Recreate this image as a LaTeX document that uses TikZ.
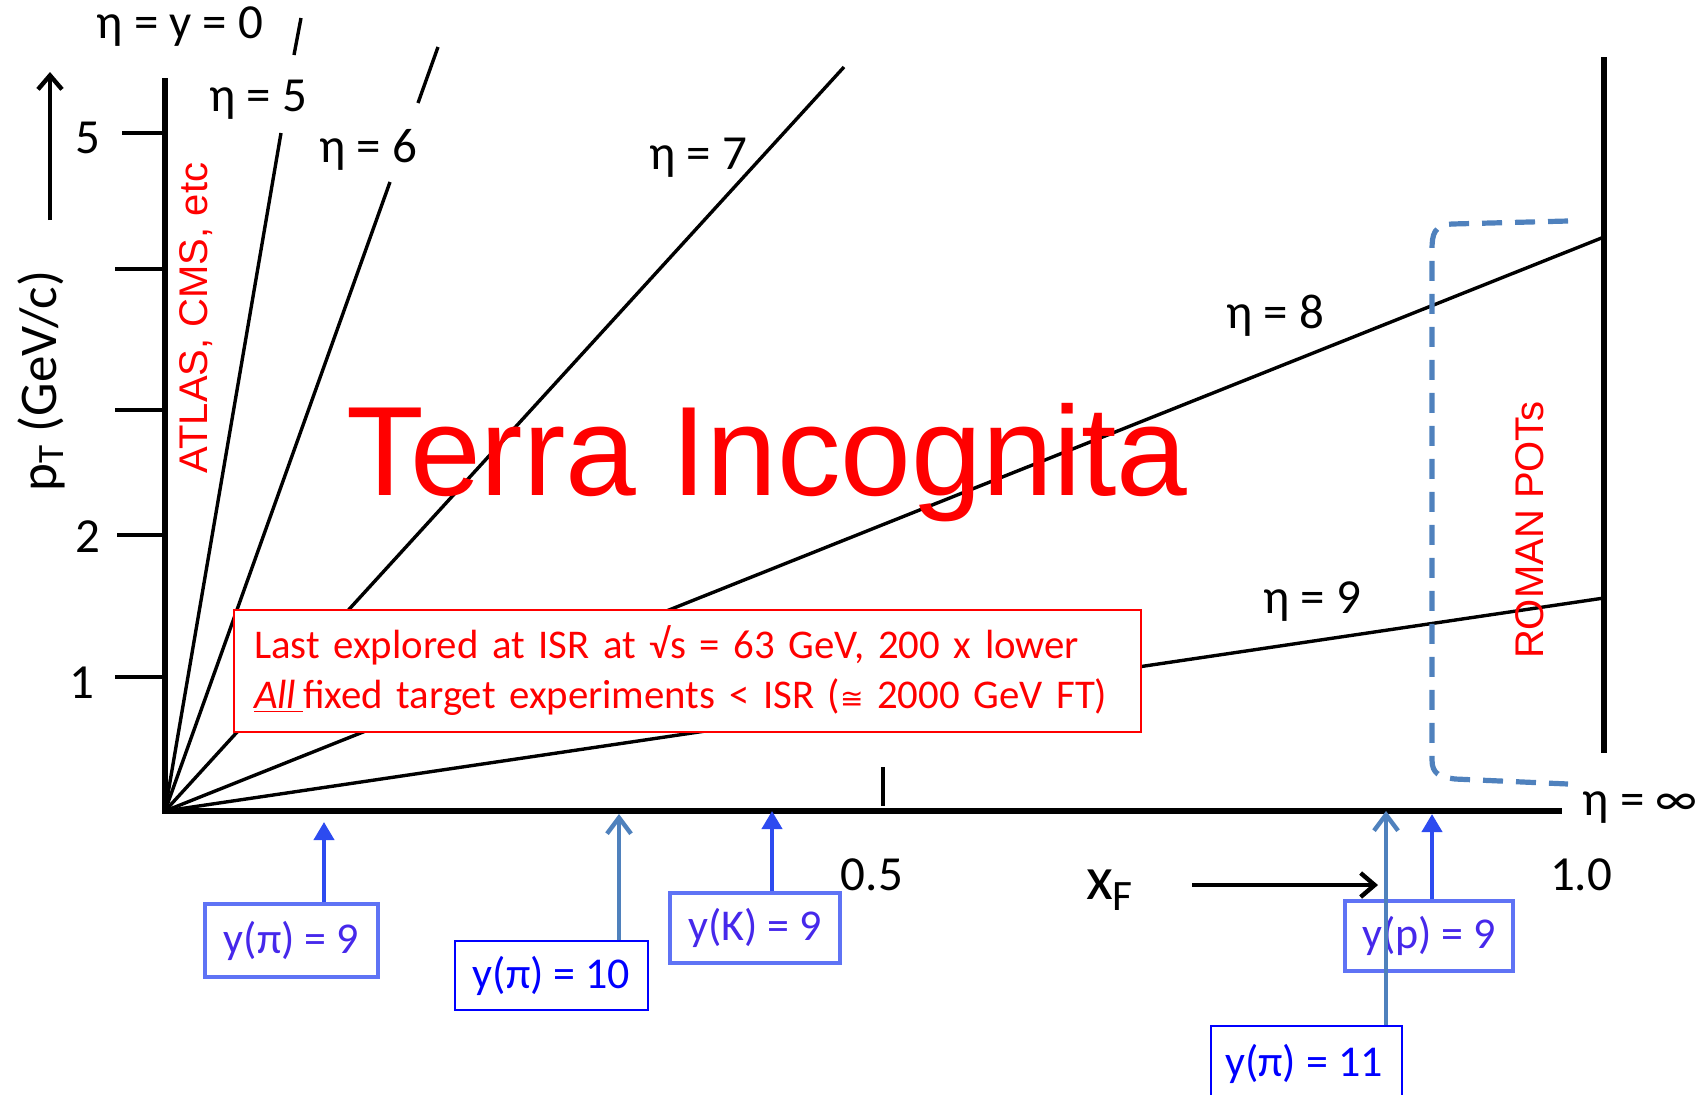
\documentclass[tikz,border=0pt]{standalone}
\usepackage{fontspec}
\setmainfont{Carlito}
\newfontfamily\arialf{Liberation Sans}
\newfontfamily\dejavuf{DejaVu Sans}
\usetikzlibrary{arrows.meta}
\definecolor{sblue}{RGB}{79,129,189}
\definecolor{bblue}{RGB}{45,75,240}
\definecolor{lblue}{RGB}{95,115,245}
\definecolor{tblue}{RGB}{70,40,235}
\definecolor{pblue}{RGB}{0,0,255}
\definecolor{ired}{RGB}{255,0,0}
\begin{document}
\begin{tikzpicture}[x=0.5pt,y=-0.5pt,
  axisline/.style={line width=2.6pt,black,line join=miter},
  tickline/.style={line width=2.4pt,black},
  etaline/.style={line width=1.7pt,black},
  lab/.style={font=\fontsize{24.5}{28}\selectfont,inner sep=0pt},
  redlab/.style={font=\arialf\fontsize{20}{24}\selectfont,text=ired,inner sep=0pt,rotate=90},
  fuzzybox/.style={draw=lblue,line width=1.6pt,text=tblue,fill=white,inner sep=0pt,
     font=\fontsize{22}{26}\selectfont},
  plainbox/.style={draw=pblue,line width=0.7pt,text=pblue,fill=white,inner sep=0pt,
     font=\fontsize{22}{26}\selectfont},
  brightarrow/.style={bblue,line width=2pt,-{Triangle[length=9pt,width=10pt]}},
  steelarrow/.style={sblue,line width=2.3pt,-{Straight Barb[length=8pt,width=12pt,line width=2.2pt]}},
  blackarrow/.style={black,line width=2.4pt,-{Straight Barb[length=7pt,width=12pt,line width=2.2pt]}}
]
\useasboundingbox (0,0) rectangle (1707,1094);

% key coordinates
\coordinate (O) at (165,811);
\coordinate (ytop) at (165,78);
\coordinate (xend) at (1562,811);

% eta lines
\coordinate (e5a) at (281,133);
\coordinate (e5b) at (294,55);
\coordinate (e5c) at (301,18);
\coordinate (e6a) at (390,182);
\coordinate (e6b) at (418,103);
\coordinate (e6c) at (438,47);
\coordinate (e7) at (844,67);
\coordinate (e8) at (1604,237);
\coordinate (e9) at (1604,598);
\draw[etaline] (O) -- (e5a);
\draw[etaline] (e5b) -- (e5c);
\draw[etaline] (O) -- (e6a);
\draw[etaline] (e6b) -- (e6c);
\draw[etaline] (O) -- (e7);
\draw[etaline] (O) -- (e8);
\draw[etaline] (O) -- (e9);

% axes
\draw[axisline] (ytop) -- (O) -- (xend);
\coordinate (rtop) at (1604,57);
\coordinate (rbot) at (1604,753);
\draw[line width=3.4pt,black] (rtop) -- (rbot);

% y ticks
\coordinate (t5a) at (122,133); \coordinate (t5b) at (165,133);
\coordinate (t4a) at (115,269); \coordinate (t4b) at (165,269);
\coordinate (t3a) at (115,410); \coordinate (t3b) at (165,410);
\coordinate (t2a) at (117,535); \coordinate (t2b) at (165,535);
\coordinate (t1a) at (115,677); \coordinate (t1b) at (165,677);
\draw[tickline] (t5a) -- (t5b);
\draw[tickline] (t4a) -- (t4b);
\draw[tickline] (t3a) -- (t3b);
\draw[tickline] (t2a) -- (t2b);
\draw[tickline] (t1a) -- (t1b);
\node[lab] (l5) at (88,138) {5};
\node[lab] (l2) at (88,537) {2};
\node[lab] (l1) at (82,683) {1};

% x tick
\coordinate (xt1) at (883,767);
\coordinate (xt2) at (883,806);
\draw[tickline] (xt1) -- (xt2);
\node[lab] (x05) at (872,875) {0.5};
\node[lab] (x10) at (1581,875) {1.0};

% eta labels
\node[lab] (n0) at (180,27) {η = y = 0};
\node[lab] (n5) at (258,100) {η = 5};
\node[lab] (n6) at (368,150) {η = 6};
\node[lab] (n7) at (698,158) {η = 7};
\node[lab] (n8) at (1275,316) {η = 8};
\node[lab] (n9) at (1312,602) {η = 9};
\node[lab] (ninf) at (1640,808) {η = ∞};

% axis titles
\node[rotate=90,font=\fontsize{26.5}{30}\selectfont,inner sep=0pt] (ylab) at (41,381) {p\textsubscript{T} (GeV/c)};
\coordinate (ya1) at (50,220);
\coordinate (ya2) at (50,72);
\draw[blackarrow] (ya1) -- (ya2);
\node[font=\fontsize{31}{34}\selectfont,inner sep=0pt] (xf) at (1110,890) {x\textsubscript{F}};
\coordinate (xa1) at (1192,885);
\coordinate (xa2) at (1378,885);
\draw[blackarrow] (xa1) -- (xa2);

% red labels
\node[redlab] (atlas) at (196,318) {ATLAS, CMS, etc};
\node[redlab] (roman) at (1530,530) {ROMAN POTs};
\node[anchor=base,font=\arialf\fontsize{63.6}{70}\selectfont,text=ired,inner sep=0pt] (terra) at (767,495) {Terra Incognita};

% dashed bracket
\draw[sblue,line width=2.6pt,dash pattern=on 10pt off 6.5pt]
  (1568,221) -- (1452,224) .. controls (1434,225) and (1432,234) .. (1432,250)
  -- (1432,760) .. controls (1432,774) and (1440,777) .. (1455,779) -- (1568,784);

% ISR box
\node[draw=ired,line width=1pt,fill=white,text=ired,align=left,
  minimum width=453.5pt,minimum height=61pt,text width=433.5pt,inner xsep=10pt,inner ysep=0pt,
  font=\fontsize{20.4}{25}\selectfont] (isr) at (687.5,671)
  {Last explored at ISR at √s = 63 GeV, 200 x lower\\
   \underline{\textit{All}\,}fixed target experiments < ISR ({\dejavuf\fontsize{14}{16}\selectfont ≅} 2000 GeV FT)};

% blue boxes
\node[fuzzybox,minimum width=86.5pt,minimum height=36.5pt] (b1) at (291.5,940.5) {y(π) = 9};
\node[plainbox,minimum width=96.5pt,minimum height=34.5pt] (b2) at (551.5,975.5) {y(π) = 10};
\node[fuzzybox,minimum width=85pt,minimum height=35pt] (b3) at (755,928) {y(K) = 9};
\node[fuzzybox,minimum width=84pt,minimum height=35pt] (b4) at (1429,936) {y(p) = 9};
\node[plainbox,minimum width=95.5pt,minimum height=40pt,text depth=0pt] (b5) at (1306.5,1066) {};
\node[text=pblue,inner sep=0pt,font=\fontsize{22}{26}\selectfont] (b5t) at (1304,1064) {y(π) = 11};

% arrows to axis
\coordinate (a1) at (324,822);
\coordinate (a2) at (619,814);
\coordinate (a3) at (772,811);
\coordinate (a4) at (1432,814);
\coordinate (a5) at (1386,811);
\draw[brightarrow] (a1 |- b1.north) -- (a1);
\draw[steelarrow] (a2 |- b2.north) -- (a2);
\draw[brightarrow] (a3 |- b3.north) -- (a3);
\draw[brightarrow] (a4 |- b4.north) -- (a4);
\draw[steelarrow] (a5 |- b5.north) -- (a5);
\end{tikzpicture}
\end{document}
